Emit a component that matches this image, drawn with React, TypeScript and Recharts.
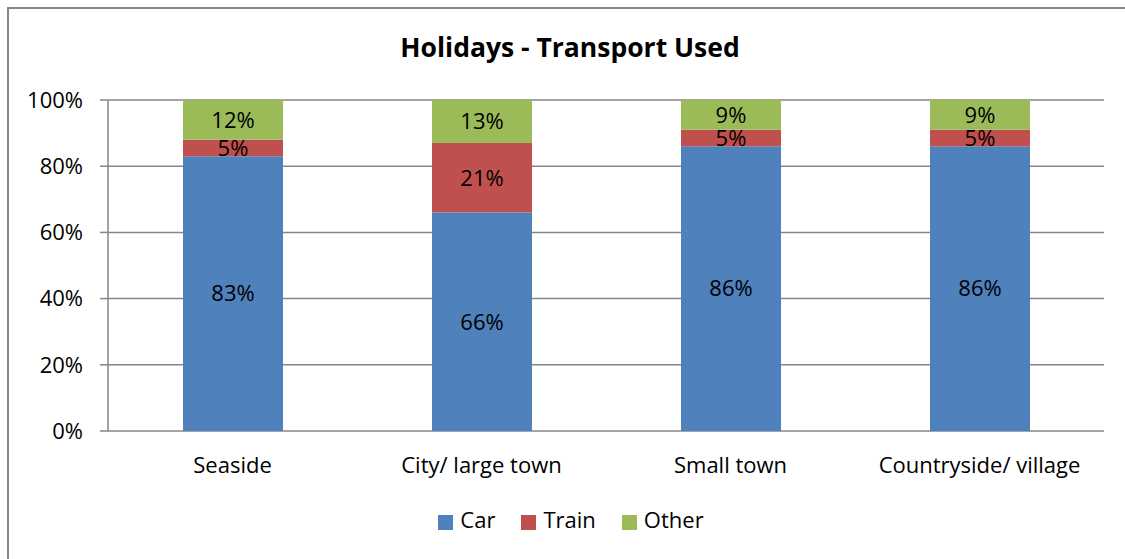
import { Bar, BarChart, CartesianGrid, LabelList, Legend, XAxis, YAxis } from "recharts";

const categories = ["Seaside", "City/ large town", "Small town", "Countryside/ village"];
const car = [83, 66, 86, 86];
const train = [5, 21, 5, 5];
const other = [12, 13, 9, 9];
const yTicks = [0, 20, 40, 60, 80, 100];
const seriesOrder = ["Car", "Train", "Other"];

const data = categories.map((name, i) => ({
  name,
  car: car[i],
  train: train[i],
  other: other[i],
}));

const FONT = "'Open Sans', Lato, sans-serif";
const AXIS = "#868686";
const FS = 22;

const pct = (v: unknown) => `${v}%`;

export default function App() {
  return (
    <div
      style={{
        position: "absolute",
        left: 0,
        top: 0,
        width: 1125,
        height: 559,
        background: "#fff",
        fontFamily: FONT,
      }}
    >
      <div
        style={{
          position: "absolute",
          left: 7,
          top: 7,
          width: 1118,
          height: 560,
          borderLeft: `2px solid ${AXIS}`,
          borderTop: `2px solid ${AXIS}`,
          boxSizing: "border-box",
        }}
      />
      <div
        style={{
          position: "absolute",
          left: 0,
          top: 29,
          width: 1140,
          textAlign: "center",
          fontSize: 26.5,
          fontWeight: 700,
          color: "#000",
        }}
      >
        Holidays - Transport Used
      </div>
      <BarChart
        width={1125}
        height={559}
        data={data}
        barSize={100}
        margin={{ top: 100, right: 21, bottom: 38, left: 0 }}
        style={{ position: "absolute", left: 0, top: 0 }}
      >
        <CartesianGrid vertical={false} stroke={AXIS} strokeWidth={1.5} />
        <XAxis
          xAxisId="edges"
          type="number"
          domain={[0, 4]}
          ticks={[0, 1, 2, 3, 4]}
          height={0}
          tick={false}
          tickSize={8}
          tickLine={{ stroke: AXIS, strokeWidth: 1.5 }}
          axisLine={{ stroke: AXIS, strokeWidth: 1.5 }}
        />
        <XAxis
          dataKey="name"
          height={60}
          tickLine={false}
          axisLine={false}
          tickMargin={20}
          interval={0}
          tick={{ fill: "#000", fontSize: FS, fontFamily: FONT }}
        />
        <YAxis
          type="number"
          domain={[0, 100]}
          ticks={yTicks}
          width={108}
          tickFormatter={pct}
          tickSize={8}
          tickMargin={17}
          tickLine={{ stroke: AXIS, strokeWidth: 1.5 }}
          axisLine={{ stroke: AXIS, strokeWidth: 1.5 }}
          tick={{ fill: "#000", fontSize: FS, fontFamily: FONT }}
        />
        <Legend
          verticalAlign="bottom"
          iconType="square"
          iconSize={15}
          itemSorter={(item: { value?: string }) => seriesOrder.indexOf(String(item.value))}
          wrapperStyle={{ bottom: 25, left: 32, fontSize: FS, fontFamily: FONT }}
          formatter={(value) => (
            <span style={{ color: "#000", marginLeft: 3, marginRight: 16 }}>{value}</span>
          )}
        />
        <Bar dataKey="car" name="Car" stackId="a" fill="#4F81BD" isAnimationActive={false}>
          <LabelList dataKey="car" position="center" formatter={pct} fill="#000" fontSize={FS} fontFamily={FONT} />
        </Bar>
        <Bar dataKey="train" name="Train" stackId="a" fill="#C0504D" isAnimationActive={false}>
          <LabelList dataKey="train" position="center" formatter={pct} fill="#000" fontSize={FS} fontFamily={FONT} />
        </Bar>
        <Bar dataKey="other" name="Other" stackId="a" fill="#9BBB59" isAnimationActive={false}>
          <LabelList dataKey="other" position="center" formatter={pct} fill="#000" fontSize={FS} fontFamily={FONT} />
        </Bar>
      </BarChart>
    </div>
  );
}
